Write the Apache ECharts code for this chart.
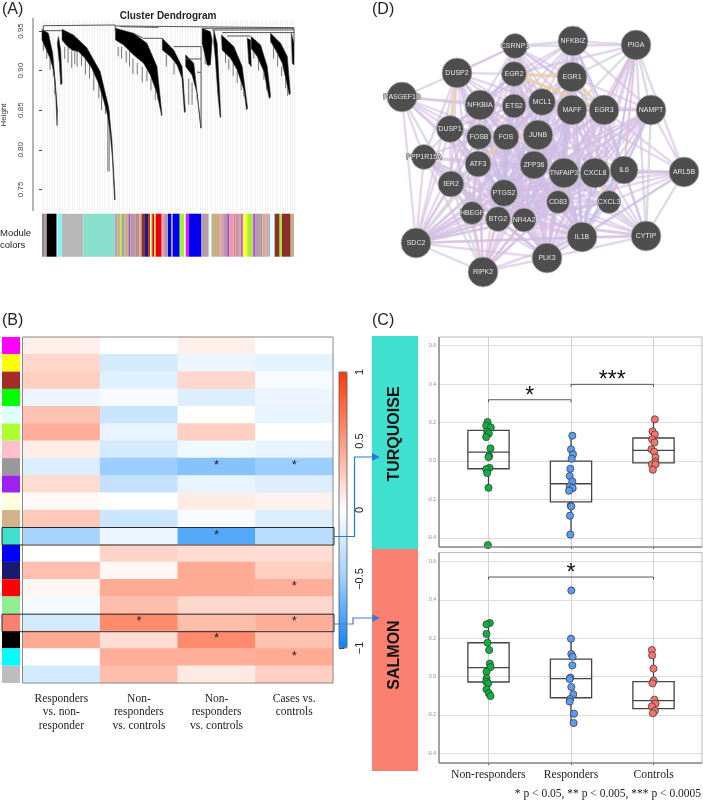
<!DOCTYPE html>
<html>
<head>
<meta charset="utf-8">
<style>
    html, body { margin: 0; padding: 0; background: #fff; }
    #main { width: 703px; height: 800px; }
</style>
<script src="https://cdn.jsdelivr.net/npm/echarts@6/dist/echarts.min.js"></script>
</head>
<body>
<div id="main"></div>
<script>
// (A) dendrogram, x is gene rank (0-754), y is height
var dendroBranches = [
    [[0,.9521],[19,.9471],[32,.9219],[40,.884],[46,.8505],[45,.8303],[40,.88],[34,.9009],[24,.9156],[9,.93],[0,.9387]],
    [[49,.9429],[56,.926],[60,.884],[56,.882],[52,.9093],[46,.9345]],
    [[60,.9521],[94,.945],[134,.929],[174,.8988],[199,.8547],[209,.8127],[219,.7371],[217,.7371],[211,.7875],[204,.821],[196,.8442],[184,.863],[169,.884],[149,.903],[129,.9156],[109,.924],[89,.926],[72,.9324],[60,.9387]],
    [[220,.9534],[274,.9471],[314,.9345],[344,.9051],[359,.8442],[358,.8429],[344,.8715],[324,.8945],[304,.9093],[274,.9198],[244,.9324],[220,.9387]],
    [[360,.9408],[394,.926],[419,.9051],[429,.8484],[426,.8471],[419,.8904],[404,.9072],[384,.9177],[360,.926]],
    [[430,.9198],[454,.9093],[476,.8274],[475,.8274],[464,.8715],[449,.8946],[430,.905]],
    [[479,.9534],[504,.9492],[509,.9387],[504,.9072],[494,.9072],[484,.926],[479,.9345]],
    [[514,.9513],[524,.9345],[535,.842],[533,.8408],[526,.8715],[519,.9135],[514,.9345]],
    [[537,.945],[574,.9303],[599,.9051],[615,.8526],[612,.8505],[604,.8757],[584,.9009],[564,.9156],[539,.926]],
    [[614,.9408],[624,.9387],[626,.9051],[619,.9093]],
    [[626,.9429],[654,.9324],[674,.9051],[684,.8673],[680,.8647],[664,.8988],[644,.9177],[626,.9282]],
    [[684,.9471],[714,.9345],[734,.9177],[743,.8715],[740,.8694],[719,.9093],[699,.926],[684,.9366]],
    [[746,.9471],[754,.9345],[754,.9072],[749,.9093]]
];
var dendroLinks = [
    [4,.9567,219,.9576],[4,.9567,4,.95],[219,.9576,219,.95],[0,.9504,59,.9504],[234,.9555,349,.9546],[219,.9563,754,.9542],
    [479,.9534,754,.9534],[509,.9513,754,.9513],[539,.948,754,.948],[554,.9437,624,.9437],[754,.9534,754,.9345],
    [274,.947,304,.9408],[304,.9408,359,.9408],[394,.9303,476,.9303],[476,.9303,476,.8274],[429,.9147,476,.9147],[464,.8979,476,.8979]
];
var dendroHairs = [
    [4,.935,.925],[14,.925,.915],[24,.915,.9009],[34,.905,.893],[38,.89,.87],[68,.93,.915],[78,.93,.91],[89,.925,.903],[98,.925,.908],[105,.925,.905],[118,.922,.906],[130,.918,.895],[142,.91,.89],[155,.9,.875],[170,.885,.865],[178,.875,.85],[190,.865,.845],[197,.85,.7728],[201,.85,.7728],
    [228,.93,.918],[238,.93,.915],[252,.925,.91],[262,.925,.905],[272,.915,.8958],[285,.91,.895],[300,.905,.885],[314,.9,.8862],[326,.89,.875],[339,.875,.863],[347,.87,.863],
    [372,.92,.905],[395,.91,.895],[422,.89,.8778],[439,.89,.8568],[449,.885,.8568],[464,.87,.863],
    [488,.935,.908],[498,.93,.905],[549,.925,.91],[559,.915,.9009],[572,.91,.893],[584,.9,.884],[596,.89,.875],[604,.88,.8673],
    [634,.925,.915],[648,.915,.9],[664,.9,.8883],[672,.885,.875],[693,.93,.915],[705,.92,.905],[717,.905,.893],[729,.89,.8778],[735,.88,.868]
];
var dendroTicks = [0.75, 0.80, 0.85, 0.90, 0.95];

// module colour strip below the dendrogram, segment end (gene rank) and module
var stripEnds = [6,14,44,46,59,124,219,226,234,239,246,259,264,279,292,298,308,319,323,326,330,336,340,358,364,377,386,391,412,426,430,439,477,499,507,534,542,554,561,574,579,589,596,601,614,629,632,639,659,669,676,683,696,711,718,744,754];
var stripNames = ['grey60','mauve','black','white','cyan','grey','turquoise','mauve','tan','greenyellow','mauve','tan','purple','mauve','rose','tan','brown','midnightblue','red','lightyellow','greenyellow','red','yellow','red','pink','mauve','blue','mauve','blue','greenyellow','lightcyan','magenta','blue','mauve','lightcyan','tan','pink','mauve','purple','pink','salmon','mauve','pink','purple','yellow','greenyellow','pink','purple','mauve','tan','pink','grey','lightcyan','brown','greenyellow','brown','tan'];
var stripColors = {
    grey60: '#8d8a84', mauve: '#b59aa8', black: '#000000', white: '#ffffff', cyan: '#7ff6f6', grey: '#b8b8b8',
    turquoise: '#88dfcc', tan: '#c8b084', greenyellow: '#a4f030', purple: '#a450d0', rose: '#c08a90', brown: '#8c2e2e',
    midnightblue: '#1a1a7a', red: '#e8000c', lightyellow: '#ffffd8', yellow: '#ffff30', pink: '#e899b0', blue: '#0000ee',
    lightcyan: '#e0ffff', magenta: '#ee10ee', salmon: '#f08070'
};

// (B) module-trait heatmap
var heatColumns = ['Responders\nvs. non-\nresponder', 'Non-\nresponders\nvs. controls', 'Non-\nresponders\nvs. controls', 'Cases vs.\ncontrols'];
var heatRows = ['magenta','yellow','brown','green','lightcyan','greenyellow','pink','grey60','purple','lightyellow','tan','turquoise','blue','midnightblue','red','lightgreen','salmon','black','cyan','grey'];
var heatRowColors = ['#ff00ff','#ffff00','#a52a2a','#00ff00','#e0ffff','#adff2f','#ffc0cb','#999999','#a020f0','#ffffe0','#d2b48c','#40e0d0','#0000ff','#191970','#ff0000','#90ee90','#fa8072','#000000','#00ffff','#bebebe'];
var heatValues = [
    [.08, 0, .08, 0],
    [.2, -.22, -.09, -.13],
    [.24, -.16, .2, -.04],
    [-.09, -.04, -.17, -.09],
    [.3, -.28, 0, -.12],
    [.4, -.12, .24, 0],
    [.09, -.22, -.08, -.12],
    [-.18, -.5, -.58, -.5],
    [.18, -.3, -.12, -.17],
    [.03, 0, .1, .07],
    [.27, -.26, -.04, -.17],
    [-.45, -.09, -.75, -.35],
    [0, .22, .17, .17],
    [.32, .04, .42, .24],
    [.05, .42, .42, .4],
    [-.05, .33, .2, .2],
    [-.22, .58, .33, .4],
    [.42, .17, .58, .31],
    [0, .4, .4, .42],
    [-.22, .33, .11, .24]
];
// [row, column] of the significant cells
var heatStars = [[7,2],[7,3],[11,2],[14,3],[16,1],[16,3],[17,2],[18,3]];
var colorbarTicks = [-1, -0.5, 0, 0.5, 1];

// (C) eigengene box plots
var groupNames = ['Non-responders', 'Responders', 'Controls'];
var turqNonResp = [.203,.184,.175,.153,.144,.125,.066,.026,.021,-.035,-.042,-.062,-.139,-.437];
var turqNonRespJit = [-.012,-.028,.028,-.016,.004,-.028,.024,.008,0,.012,-.028,-.016,0,-.008];
var turqResp = [.132,.061,.035,.012,-.04,-.078,-.106,-.132,-.141,-.154,-.232,-.236,-.284,-.382];
var turqRespJit = [.016,0,.024,.008,-.008,-.016,.016,-.016,.02,-.024,-.004,.004,-.012,-.008];
var turqCtrl = [.217,.154,.139,.113,.097,.061,.049,.019,-.005,-.017,-.017,-.045];
var turqCtrlJit = [.016,-.012,.016,-.016,.012,-.024,.008,.024,.02,-.02,.024,-.008];
var salmNonResp = [.28,.273,.223,.177,.139,.068,.05,.026,-.009,-.026,-.035,-.066,-.087,-.101];
var salmNonRespJit = [.016,-.024,-.024,-.012,.008,.016,.024,-.024,-.024,-.028,-.004,-.024,.004,.024];
var salmResp = [.45,.198,.118,.104,.059,-.005,-.012,-.054,-.092,-.117,-.13,-.193,-.242];
var salmRespJit = [.004,0,.004,.02,.016,-.008,-.016,.004,.028,-.012,-.016,.036,.032];
var salmCtrl = [.139,.111,.042,-.021,-.035,-.12,-.141,-.155,-.179,-.191];
var salmCtrlJit = [-.02,-.016,0,0,-.012,.012,.024,-.02,.016,-.008];
// [group, whisker low, q1, median, q3, whisker high]
var turqBoxes = [[1,-.139,-.04,.047,.16,.203],[2,-.382,-.212,-.118,0,.132],[3,-.045,-.009,.056,.12,.217]];
var salmBoxes = [[1,-.101,-.028,.047,.177,.28],[2,-.242,-.11,-.01,.092,.198],[3,-.191,-.167,-.125,-.026,.139]];
// [from group, to group, height, stars]
var turqBrackets = [[1,2,.319,'*'],[2,3,.399,'***']];
var salmBrackets = [[1,3,.52,'*']];

// (D) gene network, position
var geneNames = ['CSRNP1','NFKBIZ','PIGA','DUSP2','EGR2','EGR1','RASGEF1B','NFKBIA','ETS2','MCL1','MAFF','EGR3','NAMPT','DUSP1','FOSB','FOS','JUNB','PPP1R15A','ATF3','ZFP36','TNFAIP3','CXCL8','IL6','ARL5B','IER2','PTGS2','CD83','CXCL3','HBEGF','BTG2','NR4A2','SDC2','IL1B','CYTIP','PLK3','RIPK2'];
var geneX = [140,198,261,82,139,197,27,105,139,167,197,229,276,75,104,131,163,49,103,159,189,220,249,309,76,129,183,234,97,123,149,41,207,271,172,108];
var geneY = [46,41,45,73,74,77,97,105,106,102,110,110,110,129,137,137,135,157,164,165,173,173,170,172,184,193,202,202,213,219,220,243,237,236,258,272];
var geneScore = [25,30,30,30,25,30,30,30,24,27,30,30,30,27,25,26,30,25,26,28,30,30,28,30,26,27,23,23,23,25,24,30,30,30,30,30];
// first gene of each line is linked to all the others
var coexpLinks = [
    'CSRNP1 NFKBIZ PIGA EGR2 EGR1 NFKBIA ETS2 MCL1 MAFF JUNB FOS DUSP2 ATF3 ZFP36 TNFAIP3 FOSB EGR3 CXCL8 IL1B',
    'NFKBIZ PIGA EGR2 EGR1 MAFF EGR3 NAMPT MCL1 JUNB TNFAIP3 CXCL8 IL6 IL1B ETS2 NFKBIA PLK3 CXCL3 CD83 ZFP36 FOS',
    'PIGA EGR1 MAFF EGR3 NAMPT IL6 CXCL8 CXCL3 ARL5B TNFAIP3 CYTIP IL1B CD83 PLK3 EGR2',
    'DUSP2 NFKBIA EGR2 FOSB ATF3 IER2 PPP1R15A RASGEF1B FOS JUNB PTGS2 SDC2 ETS2 BTG2 PLK3 ZFP36 CSRNP1 HBEGF MCL1',
    'EGR2 NFKBIA ETS2 MCL1 MAFF FOS JUNB FOSB ATF3 ZFP36 PTGS2 TNFAIP3 NR4A2 CD83 IL1B DUSP1 CXCL8 PLK3 BTG2',
    'EGR1 MCL1 MAFF FOS JUNB ZFP36 TNFAIP3 CXCL8 IL6 CD83 NR4A2 PLK3 IL1B NAMPT PTGS2 ETS2 ATF3 BTG2',
    'RASGEF1B NFKBIA DUSP1 FOSB PPP1R15A ATF3 IER2 SDC2 PTGS2 ETS2 FOS',
    'NFKBIA ETS2 MCL1 DUSP1 FOSB FOS JUNB ATF3 ZFP36 PTGS2 IER2 BTG2 TNFAIP3 CXCL8 IL1B PLK3 HBEGF NR4A2 SDC2 CD83 MAFF',
    'ETS2 MCL1 MAFF FOS JUNB FOSB ATF3 ZFP36 PTGS2 TNFAIP3 BTG2 IL1B PLK3 NR4A2 DUSP1 HBEGF',
    'MCL1 MAFF JUNB FOS ZFP36 TNFAIP3 CXCL8 IL1B CD83 NR4A2 PLK3 NAMPT PTGS2 ATF3 BTG2 IL6',
    'MAFF EGR3 NAMPT TNFAIP3 CXCL8 IL6 CD83 CXCL3 IL1B PLK3 ZFP36 CYTIP NR4A2 ARL5B SDC2 JUNB PTGS2 BTG2 RIPK2',
    'EGR3 NAMPT TNFAIP3 CXCL8 IL6 CXCL3 IL1B CYTIP ARL5B PLK3 CD83 JUNB ZFP36 PTGS2 NR4A2 SDC2',
    'NAMPT TNFAIP3 CXCL8 IL6 CXCL3 IL1B CYTIP ARL5B PLK3 CD83 ZFP36 NR4A2 SDC2 PTGS2 BTG2 RIPK2',
    'DUSP1 FOSB FOS ATF3 IER2 PPP1R15A JUNB PTGS2 HBEGF BTG2 ZFP36 SDC2 NR4A2 RIPK2 PLK3 TNFAIP3',
    'FOSB FOS JUNB ATF3 ZFP36 IER2 PTGS2 BTG2 HBEGF NR4A2 PLK3 TNFAIP3 SDC2 IL1B RIPK2 CD83',
    'FOS JUNB ATF3 ZFP36 PTGS2 BTG2 NR4A2 TNFAIP3 IER2 HBEGF CD83 IL1B PLK3 SDC2 CXCL8 RIPK2',
    'JUNB ATF3 ZFP36 PTGS2 TNFAIP3 CXCL8 BTG2 NR4A2 CD83 IL1B IL6 PLK3 RIPK2 HBEGF SDC2 CXCL3',
    'PPP1R15A ATF3 IER2 HBEGF SDC2 PTGS2 BTG2 PLK3 IL1B RIPK2 NR4A2 ZFP36 FOSB',
    'ATF3 ZFP36 PTGS2 IER2 HBEGF BTG2 NR4A2 TNFAIP3 IL1B PLK3 SDC2 CD83 RIPK2 CXCL8',
    'ZFP36 TNFAIP3 CXCL8 PTGS2 BTG2 NR4A2 CD83 IL1B PLK3 CXCL3 IL6 RIPK2 SDC2 HBEGF CYTIP',
    'TNFAIP3 CXCL8 IL6 CD83 CXCL3 IL1B PLK3 PTGS2 NR4A2 BTG2 CYTIP ARL5B SDC2 RIPK2 HBEGF',
    'CXCL8 IL6 CD83 IL1B PLK3 PTGS2 NR4A2 CYTIP ARL5B BTG2 SDC2 CXCL3',
    'IL6 CD83 CXCL3 IL1B PLK3 CYTIP ARL5B PTGS2 NR4A2 SDC2 BTG2',
    'ARL5B CXCL3 CD83 IL1B PLK3 PTGS2 CYTIP',
    'IER2 PTGS2 HBEGF BTG2 SDC2 NR4A2 PLK3 RIPK2',
    'PTGS2 CD83 CXCL3 HBEGF BTG2 NR4A2 IL1B PLK3 CYTIP SDC2 RIPK2',
    'CD83 CXCL3 NR4A2 IL1B PLK3 CYTIP BTG2 SDC2 RIPK2',
    'CXCL3 IL1B PLK3 CYTIP NR4A2 BTG2 SDC2',
    'HBEGF BTG2 SDC2 PLK3 RIPK2 NR4A2',
    'BTG2 NR4A2 SDC2 IL1B PLK3 RIPK2 CYTIP',
    'NR4A2 SDC2 IL1B PLK3 RIPK2 CYTIP',
    'SDC2 IL1B PLK3 RIPK2 CYTIP',
    'IL1B PLK3 CYTIP RIPK2',
    'CYTIP PLK3',
    'PLK3 RIPK2'
];
var pathwayLinks = ['FOS PTGS2','MCL1 PTGS2','NFKBIZ EGR3','EGR2 NFKBIA','CSRNP1 EGR3','PIGA CXCL3','NAMPT IL1B','TNFAIP3 IL1B','ATF3 PTGS2','ZFP36 PTGS2','DUSP1 FOSB','CXCL8 IL1B','MAFF NR4A2','NFKBIA PTGS2','JUNB CD83','ETS2 PTGS2','EGR1 CD83','FOSB PTGS2','NFKBIZ IL1B'];
var sharedLinks = ['DUSP2 DUSP1','EGR2 EGR1','EGR2 EGR3','EGR1 EGR3','MAFF EGR3','FOS ATF3','FOS JUNB','CXCL8 CXCL3','FOSB FOS'];
var physicalLinks = ['RASGEF1B IER2','IER2 RIPK2','NAMPT CYTIP','CYTIP CXCL3','PIGA EGR1','NFKBIZ CSRNP1','RASGEF1B DUSP2','PIGA MAFF','PIGA NAMPT','ARL5B CYTIP','SDC2 ATF3'];
var geneticLinks = ['HBEGF RIPK2','BTG2 RIPK2','NR4A2 RIPK2','PIGA EGR3','TNFAIP3 CD83','CXCL3 IL6','PIGA IL6','NR4A2 IL1B'];

var chart = echarts.init(document.getElementById('main'));

var sansFont = '"Liberation Sans", Arial, sans-serif';
var serifFont = '"Liberation Serif", "Times New Roman", serif';

// ---- axes helpers ----
function hiddenValueAxis(gridIndex, min, max, inverse) {
    return { type: 'value', gridIndex: gridIndex, min: min, max: max, show: false, inverse: !!inverse };
}

// the horizontal grid lines and y labels of one box panel
function panelYAxis(gridIndex) {
    return {
        type: 'value', gridIndex: gridIndex, min: -0.4, max: 0.6, interval: 0.2,
        axisLine: { show: false },
        axisTick: { show: false },
        axisLabel: {
            fontSize: 5, color: '#888', fontFamily: sansFont, margin: 3,
            formatter: function (v) { return v.toFixed(1); }
        },
        splitLine: { lineStyle: { color: '#dddddd', width: 1 } }
    };
}

// the vertical grid lines and group labels of one box panel
function panelXAxis(gridIndex, withLabels) {
    return {
        type: 'value', gridIndex: gridIndex, min: 1, max: 3, interval: 1,
        axisLine: { show: false },
        axisTick: { show: true, length: 2, lineStyle: { color: '#555' } },
        axisLabel: {
            show: withLabels, fontSize: 11.7, color: '#222', fontFamily: serifFont, margin: 6,
            formatter: function (v) { return groupNames[v - 1]; }
        },
        splitLine: { show: true, lineStyle: { color: '#d2d2d2', width: 1 } }
    };
}

var grids = [
    { left: 42, top: 20, width: 252, height: 191 },         // 0 dendrogram guide lines
    { left: 42, top: 31, width: 252, height: 158.4 },       // 1 dendrogram
    { left: 42, top: 213.7, width: 252, height: 43 },       // 2 module strip
    { left: 22.5, top: 337, width: 310.5, height: 346 },    // 3 heatmap
    { left: 2, top: 337, width: 18, height: 346 },          // 4 heatmap row colours
    { left: 339, top: 372, width: 8, height: 276 },         // 5 colour bar axis
    { left: 439, top: 345.7, width: 264, height: 192.3 },   // 6 turquoise panel
    { left: 488.3, top: 337, width: 165.4, height: 210 },   // 7 turquoise guides
    { left: 439, top: 561.7, width: 264, height: 191.6 },   // 8 salmon panel
    { left: 488.3, top: 552.5, width: 165.4, height: 210.5 }, // 9 salmon guides
    { left: 375, top: 0, width: 328, height: 320 }          // 10 network
];

var xAxes = [
    {
        type: 'value', gridIndex: 0, min: 0, max: 754, interval: 7.5,
        axisLine: { show: false }, axisTick: { show: false }, axisLabel: { show: false },
        splitLine: { show: true, lineStyle: { color: '#f1f1f1', width: 1 } }
    },
    hiddenValueAxis(1, 0, 754),
    hiddenValueAxis(2, 0, 754),
    {
        type: 'category', gridIndex: 3, data: heatColumns,
        axisLine: { show: false }, axisTick: { show: false },
        axisLabel: { interval: 0, fontFamily: serifFont, fontSize: 11.5, lineHeight: 13.5, color: '#222', margin: 9 },
        splitLine: { show: false }
    },
    hiddenValueAxis(4, 0, 1),
    hiddenValueAxis(5, 0, 1),
    hiddenValueAxis(6, 0.4, 3.6),
    panelXAxis(7, false),
    hiddenValueAxis(8, 0.4, 3.6),
    panelXAxis(9, true),
    hiddenValueAxis(10, 0, 328)
];

var yAxes = [
    hiddenValueAxis(0, 0, 1),
    {
        type: 'value', gridIndex: 1, min: 0.75, max: 0.95, interval: 0.05, offset: 9,
        axisLine: { show: false },
        axisTick: { show: true, length: 3, lineStyle: { color: '#444' } },
        axisLabel: {
            rotate: 90, fontSize: 8, color: '#444', fontFamily: sansFont, margin: 8,
            formatter: function (v) { return v.toFixed(2); }
        },
        splitLine: { show: false }
    },
    hiddenValueAxis(2, 0, 1),
    {
        type: 'category', gridIndex: 3, data: heatRows, inverse: true, show: false
    },
    {
        type: 'category', gridIndex: 4, data: heatRows, inverse: true, show: false
    },
    {
        type: 'value', gridIndex: 5, min: -1, max: 1, interval: 0.5, position: 'right',
        axisLine: { show: false },
        axisTick: { show: true, length: 5, lineStyle: { color: '#444' } },
        axisLabel: {
            rotate: 90, fontSize: 11, color: '#222', fontFamily: sansFont, margin: 7,
            formatter: function (v) { return colorbarTicks.indexOf(v) < 0 ? '' : String(v).replace('-', '\u2212'); }
        },
        splitLine: { show: false }
    },
    panelYAxis(6),
    hiddenValueAxis(7, 0, 1),
    panelYAxis(8),
    hiddenValueAxis(9, 0, 1),
    hiddenValueAxis(10, 0, 320, true)
];

// ---- custom marks ----
function renderBranch(params, api) {
    var points = dendroBranches[api.value(0)].map(function (p) { return api.coord(p); });
    return {
        type: 'polygon', shape: { points: points },
        style: { fill: '#000', stroke: '#333', lineWidth: 0.6 }
    };
}

function renderLink(params, api) {
    var a = api.coord([api.value(0), api.value(1)]);
    var b = api.coord([api.value(2), api.value(3)]);
    return {
        type: 'line', shape: { x1: a[0], y1: a[1], x2: b[0], y2: b[1] },
        style: { stroke: '#555', lineWidth: 1 }
    };
}

function renderHair(params, api) {
    var a = api.coord([api.value(0), api.value(1)]);
    var b = api.coord([api.value(0), api.value(2)]);
    return {
        type: 'line', shape: { x1: a[0], y1: a[1], x2: b[0], y2: b[1] },
        style: { stroke: '#777', lineWidth: 1 }
    };
}

function renderStrip(params, api) {
    var a = api.coord([api.value(0), 1]);
    var b = api.coord([api.value(1), 0]);
    return {
        type: 'rect', shape: { x: a[0], y: a[1], width: b[0] - a[0], height: b[1] - a[1] },
        style: { fill: stripColors[stripNames[params.dataIndex]] }
    };
}

function renderBox(params, api) {
    var x = api.value(0);
    var lo = api.coord([x, api.value(1)]);
    var q1 = api.coord([x - 0.25, api.value(2)]);
    var q1r = api.coord([x + 0.25, api.value(2)]);
    var med = api.coord([x, api.value(3)]);
    var q3 = api.coord([x - 0.25, api.value(4)]);
    var hi = api.coord([x, api.value(5)]);
    var boxStyle = { stroke: '#444', lineWidth: 1.3, fill: 'none' };
    return {
        type: 'group',
        children: [
            { type: 'line', shape: { x1: hi[0], y1: hi[1], x2: hi[0], y2: q3[1] }, style: boxStyle },
            { type: 'line', shape: { x1: lo[0], y1: lo[1], x2: lo[0], y2: q1[1] }, style: boxStyle },
            { type: 'rect', shape: { x: q3[0], y: q3[1], width: q1r[0] - q1[0], height: q1[1] - q3[1] }, style: boxStyle },
            { type: 'line', shape: { x1: q1[0], y1: med[1], x2: q1r[0], y2: med[1] }, style: boxStyle }
        ]
    };
}

function renderBracket(params, api) {
    var a = api.coord([api.value(0), api.value(2)]);
    var b = api.coord([api.value(1), api.value(2)]);
    var lineStyle = { stroke: '#555', lineWidth: 1, fill: 'none' };
    return {
        type: 'group',
        children: [
            { type: 'polyline', shape: { points: [[a[0], a[1] + 2.5], a, b, [b[0], b[1] + 2.5]] }, style: lineStyle },
            {
                type: 'text',
                style: {
                    text: api.value(3), x: (a[0] + b[0]) / 2, y: a[1] + 8,
                    align: 'center', verticalAlign: 'bottom',
                    fill: '#111', font: '23px ' + sansFont
                }
            }
        ]
    };
}

function customSeries(gridIndex, render, data, z) {
    return {
        type: 'custom', xAxisIndex: gridIndex, yAxisIndex: gridIndex, renderItem: render, data: data,
        silent: true, clip: false, z: z || 3
    };
}

function zipPoints(group, values, jitter) {
    return values.map(function (v, i) { return [group + jitter[i], v]; });
}

function dotSeries(gridIndex, color, data) {
    return {
        type: 'scatter', xAxisIndex: gridIndex, yAxisIndex: gridIndex, data: data, symbolSize: 7.2, clip: false, z: 5,
        itemStyle: { color: color, borderColor: '#333', borderWidth: 0.7, opacity: 1 }
    };
}

// ---- network links ----
function buildLinks() {
    var links = [];
    function addPairs(list, color, width, opacity) {
        list.forEach(function (line) {
            var names = line.split(' ');
            for (var i = 1; i < names.length; i++) {
                links.push({
                    source: names[0], target: names[i],
                    lineStyle: { color: color, width: width, opacity: opacity, curveness: 0 }
                });
            }
        });
    }
    addPairs(coexpLinks, '#d2bce2', 2.4, 0.6);
    addPairs(pathwayLinks, '#b4c2ee', 1.2, 0.8);
    addPairs(physicalLinks, '#c4ecc6', 1.1, 0.9);
    addPairs(geneticLinks, '#efbcc6', 1.1, 0.9);
    addPairs(sharedLinks, '#f0cca0', 3, 0.9);
    return links;
}

var networkNodes = geneNames.map(function (name, i) {
    return { name: name, value: [geneX[i], geneY[i]], symbolSize: geneScore[i] };
});

// ---- heatmap data ----
var heatData = [];
heatValues.forEach(function (row, r) {
    row.forEach(function (v, c) {
        heatData.push([c, r, v]);
    });
});

function isStarred(r, c) {
    return heatStars.some(function (s) { return s[0] === r && s[1] === c; });
}

var series = [
    customSeries(1, renderHair, dendroHairs, 2),
    customSeries(1, renderBranch, dendroBranches.map(function (b, i) { return [i]; }), 3),
    customSeries(1, renderLink, dendroLinks, 4),
    customSeries(2, renderStrip, stripEnds.map(function (end, i) { return [i ? stripEnds[i - 1] : 0, end]; })),
    {
        type: 'heatmap', xAxisIndex: 3, yAxisIndex: 3, data: heatData, progressive: 0, z: 2,
        label: {
            show: true, fontSize: 13, color: '#222', fontFamily: sansFont, position: 'inside', offset: [0, -1],
            formatter: function (p) { return isStarred(p.value[1], p.value[0]) ? '*' : ''; }
        },
        itemStyle: { borderWidth: 0 }
    },
    {
        type: 'bar', xAxisIndex: 4, yAxisIndex: 4, barWidth: '100%', silent: true,
        data: heatRows.map(function (name, i) {
            return { value: 1, itemStyle: { color: heatRowColors[i] } };
        })
    },
    customSeries(6, renderBox, turqBoxes, 4),
    dotSeries(6, '#0fb041', zipPoints(1, turqNonResp, turqNonRespJit)),
    dotSeries(6, '#5b9bf0', zipPoints(2, turqResp, turqRespJit)),
    dotSeries(6, '#f5746c', zipPoints(3, turqCtrl, turqCtrlJit)),
    customSeries(6, renderBracket, turqBrackets, 6),
    customSeries(8, renderBox, salmBoxes, 4),
    dotSeries(8, '#0fb041', zipPoints(1, salmNonResp, salmNonRespJit)),
    dotSeries(8, '#5b9bf0', zipPoints(2, salmResp, salmRespJit)),
    dotSeries(8, '#f5746c', zipPoints(3, salmCtrl, salmCtrlJit)),
    customSeries(8, renderBracket, salmBrackets, 6),
    {
        type: 'graph', coordinateSystem: 'cartesian2d', xAxisIndex: 10, yAxisIndex: 10, layout: 'none',
        silent: true, symbol: 'circle', data: networkNodes, links: buildLinks(),
        itemStyle: { color: '#4e4e4e', borderColor: '#b8b8b8', borderWidth: 0.8 },
        label: {
            show: true, position: 'inside', formatter: '{b}', fontSize: 7, color: '#e8e8e8', fontFamily: sansFont,
            textBorderColor: '#4e4e4e', textBorderWidth: 1
        },
        z: 2
    }
];

// ---- static text and annotations ----
function textEl(text, x, y, font, fill, align, rotation) {
    return {
        type: 'text', x: x, y: y, rotation: rotation || 0, z: 20,
        style: { text: text, font: font, fill: fill || '#222', align: align || 'left', verticalAlign: 'middle' }
    };
}

function lineEl(points, color, width) {
    return {
        type: 'polyline', z: 15, shape: { points: points },
        style: { stroke: color, lineWidth: width, fill: 'none' }
    };
}

function arrowEl(tipX, tipY, color) {
    return {
        type: 'polygon', z: 16, shape: { points: [[tipX - 8, tipY - 4], [tipX, tipY], [tipX - 8, tipY + 4]] },
        style: { fill: color }
    };
}

var graphics = [
    // panel tags
    textEl('(A)', 2, 10, '16px ' + sansFont),
    textEl('(B)', 2, 321, '16px ' + sansFont),
    textEl('(C)', 372, 321, '16px ' + sansFont),
    textEl('(D)', 372, 10, '16px ' + sansFont),
    // panel A
    textEl('Cluster Dendrogram', 168, 16.5, 'bold 10px ' + sansFont, '#222', 'center'),
    textEl('Height', 4, 115, '8px ' + sansFont, '#333', 'center', Math.PI / 2),
    textEl('Module', 0, 233, '9.5px ' + sansFont),
    textEl('colors', 0, 245, '9.5px ' + sansFont),
    lineEl([[33, 18], [33, 211]], '#444', 0.8),
    // panel B frame and highlighted rows
    { type: 'rect', z: 14, shape: { x: 22.5, y: 337, width: 310.5, height: 346 }, style: { stroke: '#8a8a8a', lineWidth: 1, fill: 'none' } },
    { type: 'rect', z: 15, shape: { x: 2, y: 527.5, width: 332, height: 17.5 }, style: { stroke: '#2a2a2a', lineWidth: 1, fill: 'none' } },
    { type: 'rect', z: 15, shape: { x: 2, y: 614.2, width: 332, height: 17.5 }, style: { stroke: '#2a2a2a', lineWidth: 1, fill: 'none' } },
    { type: 'rect', z: 14, shape: { x: 339, y: 372, width: 8, height: 276 }, style: { stroke: '#555', lineWidth: 0.8, fill: 'none' } },
    // blue arrows from the rows to panel C
    lineEl([[334, 536.5], [354.5, 536.5], [354.5, 457], [374, 457]], '#1d7cd6', 1.2),
    arrowEl(380, 457, '#1d7cd6'),
    lineEl([[334, 624], [353, 624], [353, 618], [374, 618]], '#4a78c8', 1.2),
    arrowEl(380, 618, '#4a78c8'),
    // panel C colour bars
    { type: 'rect', z: 1, shape: { x: 372, y: 336, width: 46, height: 213 }, style: { fill: '#40e0d0' } },
    { type: 'rect', z: 1, shape: { x: 372, y: 549, width: 46, height: 222 }, style: { fill: '#fa8072' } },
    textEl('TURQUOISE', 395, 434, 'bold 16px ' + sansFont, '#111', 'center', Math.PI / 2),
    textEl('SALMON', 395, 655, 'bold 16px ' + sansFont, '#111', 'center', Math.PI / 2),
    // panel C frames
    { type: 'rect', z: 14, shape: { x: 439, y: 337, width: 263, height: 210 }, style: { stroke: '#bbb', lineWidth: 1, fill: 'none' } },
    lineEl([[439, 337], [439, 547], [702, 547]], '#666', 1),
    { type: 'rect', z: 14, shape: { x: 439, y: 552.5, width: 263, height: 210.5 }, style: { stroke: '#bbb', lineWidth: 1, fill: 'none' } },
    lineEl([[439, 552.5], [439, 763], [702, 763]], '#666', 1),
    textEl('* p < 0.05, ** p < 0.005, *** p < 0.0005', 701, 794, '11.5px ' + serifFont, '#222', 'right')
];

chart.setOption({
    animation: false,
    backgroundColor: '#fff',
    grid: grids,
    xAxis: xAxes,
    yAxis: yAxes,
    visualMap: {
        type: 'continuous', min: -1, max: 1, seriesIndex: 4, calculable: false, show: true,
        left: 339, top: 372, itemWidth: 8, itemHeight: 276, padding: 0, text: ['', ''], showLabel: false,
        inRange: { color: ['#0b84f3', '#9ccfff', '#ffffff', '#ff9b80', '#ff3a0a'] }
    },
    series: series,
    graphic: { elements: graphics }
});
</script>
</body>
</html>
